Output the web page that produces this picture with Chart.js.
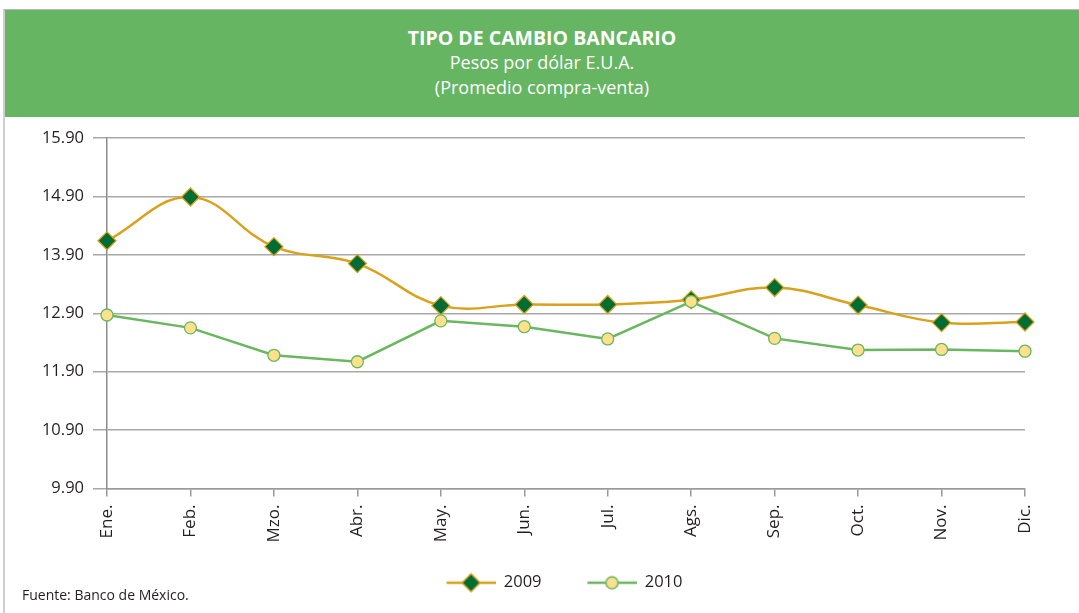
<!DOCTYPE html>
<html><head><meta charset="utf-8">
<script src="https://cdn.jsdelivr.net/npm/chart.js@4.4.0/dist/chart.umd.min.js"></script>
<style>
html,body{margin:0;padding:0;background:#fff;width:1079px;height:613px;overflow:hidden;font-family:"Open Sans",sans-serif;}
#frame{position:absolute;left:3px;top:9px;width:1076px;height:610px;border-left:2px solid #cfcfcf;border-top:1px solid #b8b8b8;}
#header{position:absolute;left:5px;top:10px;width:1074px;height:107px;background:#65B562;color:#fff;text-align:center;padding-top:15px;box-sizing:border-box;}
#header div{line-height:25px;font-size:18px;}
#header .t{font-weight:bold;font-size:19.5px;}
#wrap{position:absolute;left:0;top:117px;width:1079px;height:496px;}
#foot{position:absolute;left:22px;top:586px;font-size:14px;color:#231F20;line-height:18px;}
</style></head>
<body>
<div id="frame"></div>
<div id="header">
  <div class="t">TIPO DE CAMBIO BANCARIO</div>
  <div>Pesos por dólar E.U.A.</div>
  <div>(Promedio compra-venta)</div>
</div>
<div id="wrap"><canvas id="c" width="1079" height="496"></canvas></div>
<div id="foot">Fuente: Banco de México.</div>
<script>
const months = ['Ene.','Feb.','Mzo.','Abr.','May.','Jun.','Jul.','Ags.','Sep.','Oct.','Nov.','Dic.'];
const values2009 = [14.14, 14.89, 14.04, 13.75, 13.03, 13.05, 13.05, 13.13, 13.34, 13.04, 12.74, 12.75];
const values2010 = [12.87, 12.65, 12.18, 12.07, 12.77, 12.67, 12.46, 13.10, 12.47, 12.27, 12.28, 12.25];
const yTicks = [9.90, 10.90, 11.90, 12.90, 13.90, 14.90, 15.90];
const seriesNames = ['2009', '2010'];

const GOLD = '#D9A11C', DKGREEN = '#006D35', GREEN = '#69B75F', YELLOW = '#FFE08C';

function makeIcon(kind){
  const cv = document.createElement('canvas');
  cv.width = 85; cv.height = 22;
  const g = cv.getContext('2d');
  g.lineWidth = 2.5;
  g.strokeStyle = kind === 0 ? GOLD : GREEN;
  g.beginPath(); g.moveTo(36, 11); g.lineTo(85, 11); g.stroke();
  if (kind === 0) {
    g.fillStyle = DKGREEN; g.strokeStyle = GOLD; g.lineWidth = 1.5;
    g.beginPath(); g.moveTo(60.5, 2); g.lineTo(69.5, 11); g.lineTo(60.5, 20); g.lineTo(51.5, 11); g.closePath();
    g.fill(); g.stroke();
  } else {
    g.fillStyle = YELLOW; g.strokeStyle = GREEN; g.lineWidth = 1.5;
    g.beginPath(); g.arc(60.5, 11, 6, 0, Math.PI*2); g.fill(); g.stroke();
  }
  return cv;
}
const icons = [makeIcon(0), makeIcon(1)];
const FONT = '"Open Sans", sans-serif';

new Chart(document.getElementById('c'), {
  type: 'line',
  data: {
    labels: months,
    datasets: [
      {label: seriesNames[0], data: values2009, borderColor: GOLD, borderWidth: 2.5, tension: 0.4,
       pointStyle: 'rectRot', pointRadius: 9, pointBackgroundColor: DKGREEN, pointBorderColor: GOLD, pointBorderWidth: 1.3, order: 2},
      {label: seriesNames[1], data: values2010, borderColor: GREEN, borderWidth: 2.5, tension: 0,
       pointStyle: 'circle', pointRadius: 6, pointBackgroundColor: YELLOW, pointBorderColor: GREEN, pointBorderWidth: 1.3, order: 1}
    ]
  },
  options: {
    responsive: false, animation: false, devicePixelRatio: 1,
    layout: {padding: {top: 21, right: 0, bottom: 12, left: 14}},
    plugins: {
      tooltip: {enabled: false},
      legend: {
        position: 'bottom',
        labels: {
          usePointStyle: true, pointStyleWidth: 85, padding: 10,
          color: '#231F20', font: {family: FONT, size: 16.5},
          generateLabels: () => seriesNames.map((n, i) => ({
            text: n, pointStyle: icons[i], fillStyle: 'transparent', strokeStyle: 'transparent',
            lineWidth: 0, hidden: false, datasetIndex: i, fontColor: '#231F20'
          }))
        }
      }
    },
    scales: {
      x: {
        offset: false,
        grid: {drawOnChartArea: false, drawTicks: true, tickLength: 8, color: '#9a9a9a', lineWidth: 1.5},
        border: {display: true, color: '#9a9a9a', width: 1.5},
        ticks: {maxRotation: 90, minRotation: 90, padding: 8, color: '#231F20', font: {family: FONT, size: 17}, autoSkip: false},
        afterFit: s => { s.height = 76; }
      },
      y: {
        min: 9.9, max: 15.9,
        afterBuildTicks: s => { s.ticks = yTicks.map(v => ({value: v})); },
        grid: {color: '#a8a8a8', lineWidth: 1.5, tickLength: 14, drawTicks: true},
        border: {display: true, color: '#8c8c8c', width: 1.5},
        ticks: {padding: 9, color: '#231F20', font: {family: FONT, size: 16.5}, callback: v => Number(v).toFixed(2)},
        afterFit: s => { s.width = 93; }
      },
      yRight: {
        position: 'right', display: true,
        grid: {display: false, drawTicks: false}, border: {display: false},
        ticks: {display: false},
        afterFit: s => { s.width = 54; }
      }
    }
  }
});
</script>
</body></html>
